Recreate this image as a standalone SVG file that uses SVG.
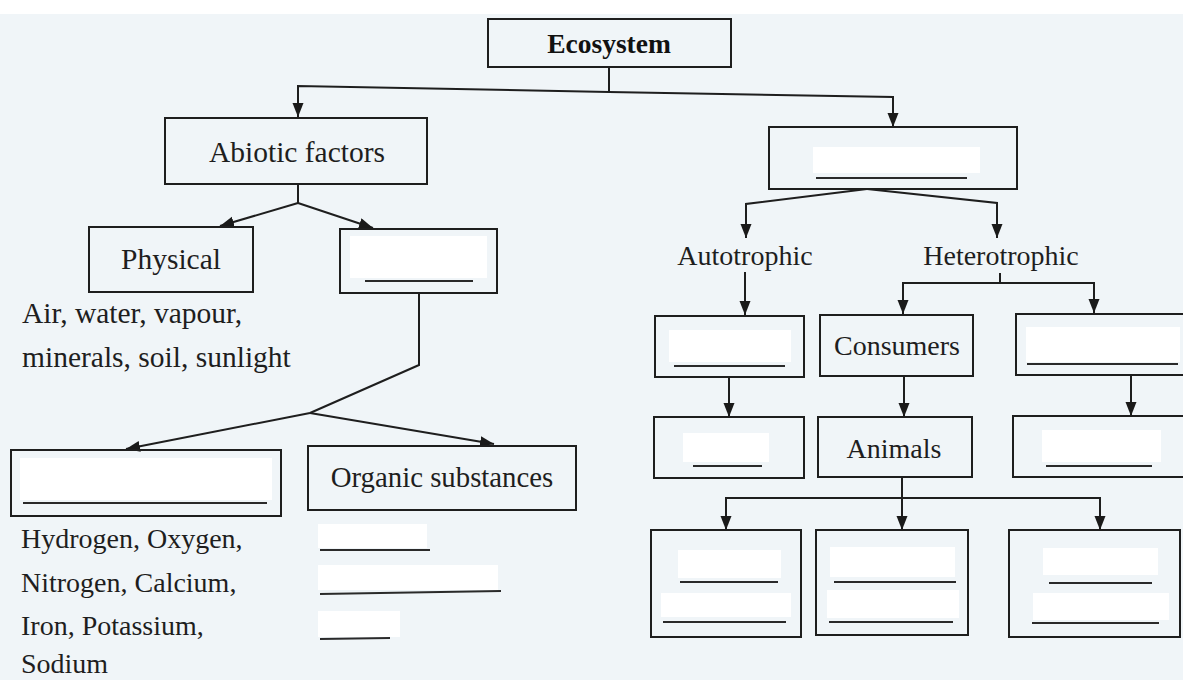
<svg xmlns="http://www.w3.org/2000/svg" width="1183" height="680" viewBox="0 0 1183 680">
<style>
.box{fill:none;stroke:#1e1e1e;stroke-width:2}
.wht{fill:#ffffff;stroke:none}
.blank{stroke:#2a2a2a;stroke-width:1.8;fill:none}
.t{font-family:"Liberation Serif","Times New Roman",serif;font-size:28px;fill:#1e1e1e}
.l{font-size:29.5px}
.c{text-anchor:middle}
.b{font-weight:bold;font-size:27.5px;fill:#111}
.con{fill:none;stroke:#1e1e1e;stroke-width:2}
.arr{marker-end:url(#ah)}
</style>
<defs>
<marker id="ah" markerUnits="userSpaceOnUse" markerWidth="15" markerHeight="12" refX="14" refY="5.5" orient="auto">
<path d="M0,0 L14,5.5 L0,11 Z" fill="#1a1a1a"/>
</marker>
</defs>
<rect x="0" y="0" width="1183" height="680" fill="#f0f5f8"/>
<rect x="0" y="0" width="1183" height="14" fill="#ffffff"/>

<g id="connectors">
<path class="con" d="M609,67 L609,92"/>
<path class="con arr" d="M609,92 L298,86 L298,117"/>
<path class="con arr" d="M609,92 L893,97 L893,127"/>
<path class="con" d="M298,184 L298,203"/>
<path class="con arr" d="M298,203 L220,226"/>
<path class="con arr" d="M298,203 L373,228"/>
<path class="con" d="M419,293 L419,365 L310,413"/>
<path class="con arr" d="M310,413 L126,449"/>
<path class="con arr" d="M310,413 L494,444"/>
<path class="con arr" d="M867,189 L746,204 L746,238"/>
<path class="con arr" d="M867,189 L997,203 L997,238"/>
<path class="con arr" d="M745,272 L745,315"/>
<path class="con" d="M1000,273 L1000,283"/>
<path class="con arr" d="M1000,283 L903,283 L903,314"/>
<path class="con arr" d="M1000,283 L1094,283 L1094,313"/>
<path class="con arr" d="M729,377 L729,417"/>
<path class="con arr" d="M904,376 L904,417"/>
<path class="con arr" d="M1131,375 L1131,416"/>
<path class="con arr" d="M902,477 L902,530"/>
<path class="con arr" d="M902,498 L726,498 L726,530"/>
<path class="con arr" d="M902,498 L1100,498 L1100,530"/>
</g>

<g id="ecosystem">
<rect class="box" x="488" y="19" width="243" height="48"/>
<text class="t c b" x="609" y="53">Ecosystem</text>
</g>

<g id="abiotic">
<rect class="box" x="165" y="118" width="262" height="66"/>
<text class="t l c" x="297" y="162">Abiotic factors</text>
</g>

<g id="physical">
<rect class="box" x="89" y="227" width="164" height="65"/>
<text class="t l c" x="171" y="269">Physical</text>
<text class="t l" x="22" y="323">Air, water, vapour,</text>
<text class="t l" x="22" y="367">minerals, soil, sunlight</text>
</g>

<g id="chemical-blank">
<rect class="box" x="340" y="229" width="157" height="64"/>
<rect class="wht" x="350" y="236" width="137" height="42"/>
<line class="blank" x1="365" y1="281" x2="473" y2="281"/>
</g>

<g id="inorganic-blank">
<rect class="box" x="11" y="450" width="270" height="66"/>
<rect class="wht" x="20" y="458" width="252" height="42"/>
<line class="blank" x1="23" y1="503" x2="267" y2="503"/>
<text class="t" x="21" y="548">Hydrogen, Oxygen,</text>
<text class="t" x="21" y="592">Nitrogen, Calcium,</text>
<text class="t" x="21" y="635">Iron, Potassium,</text>
<text class="t" x="21" y="673">Sodium</text>
</g>

<g id="organic">
<rect class="box" x="308" y="446" width="268" height="64"/>
<text class="t c" x="442" y="487" style="font-size:28.8px">Organic substances</text>
<rect class="wht" x="318" y="524" width="109" height="24"/>
<line class="blank" x1="320" y1="550" x2="430" y2="550"/>
<rect class="wht" x="318" y="565" width="180" height="25"/>
<line class="blank" x1="320" y1="594" x2="501" y2="591"/>
<rect class="wht" x="318" y="611" width="82" height="26"/>
<line class="blank" x1="320" y1="639" x2="390" y2="638"/>
</g>

<g id="biotic-blank">
<rect class="box" x="769" y="127" width="248" height="62"/>
<rect class="wht" x="813" y="147" width="167" height="26"/>
<line class="blank" x1="816" y1="178" x2="967" y2="178"/>
</g>

<g id="autotrophic">
<text class="t c" x="745" y="265">Autotrophic</text>
</g>

<g id="heterotrophic">
<text class="t c" x="1001" y="265">Heterotrophic</text>
</g>

<g id="producers-blank">
<rect class="box" x="655" y="316" width="149" height="61"/>
<rect class="wht" x="669" y="330" width="122" height="32"/>
<line class="blank" x1="674" y1="366" x2="785" y2="366"/>
</g>

<g id="consumers">
<rect class="box" x="820" y="315" width="153" height="61"/>
<text class="t c" x="897" y="355">Consumers</text>
</g>

<g id="decomposers-blank">
<rect class="box" x="1016" y="314" width="180" height="61"/>
<rect class="wht" x="1026" y="327" width="154" height="35"/>
<line class="blank" x1="1027" y1="364" x2="1178" y2="364"/>
</g>

<g id="plants-blank">
<rect class="box" x="654" y="417" width="150" height="61"/>
<rect class="wht" x="683" y="433" width="86" height="29"/>
<line class="blank" x1="693" y1="466" x2="762" y2="466"/>
</g>

<g id="animals">
<rect class="box" x="818" y="417" width="154" height="60"/>
<text class="t c" x="894" y="458">Animals</text>
</g>

<g id="microbes-blank">
<rect class="box" x="1013" y="416" width="180" height="61"/>
<rect class="wht" x="1042" y="430" width="119" height="32"/>
<line class="blank" x1="1046" y1="466" x2="1152" y2="466"/>
</g>

<g id="animal-type-1">
<rect class="box" x="651" y="530" width="150" height="107"/>
<rect class="wht" x="678" y="550" width="103" height="28"/>
<line class="blank" x1="680" y1="582" x2="778" y2="582"/>
<rect class="wht" x="661" y="593" width="130" height="24"/>
<line class="blank" x1="663" y1="622" x2="786" y2="622"/>
</g>

<g id="animal-type-2">
<rect class="box" x="816" y="530" width="152" height="105"/>
<rect class="wht" x="830" y="547" width="125" height="30"/>
<line class="blank" x1="834" y1="582" x2="956" y2="582"/>
<rect class="wht" x="827" y="590" width="132" height="28"/>
<line class="blank" x1="829" y1="622" x2="953" y2="622"/>
</g>

<g id="animal-type-3">
<rect class="box" x="1009" y="530" width="171" height="107"/>
<rect class="wht" x="1043" y="548" width="115" height="27"/>
<line class="blank" x1="1049" y1="583" x2="1152" y2="583"/>
<rect class="wht" x="1033" y="593" width="136" height="27"/>
<line class="blank" x1="1032" y1="623" x2="1159" y2="623"/>
</g>
</svg>
